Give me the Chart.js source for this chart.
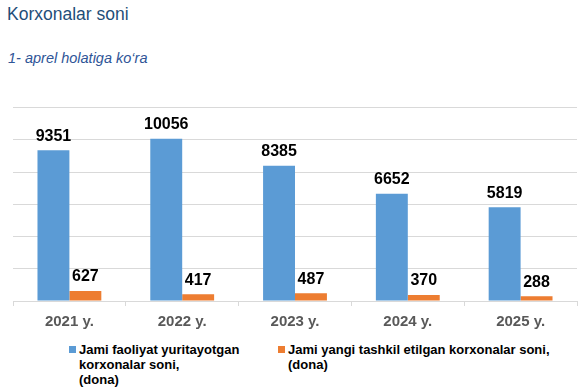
<!DOCTYPE html>
<html>
<head>
    <meta charset="utf-8"/>
    <title>Korxonalar soni</title>
    <style>
        body { margin: 0; width: 585px; height: 392px; background: #fff; font-family: "Liberation Sans", Arial, sans-serif; position: relative; overflow: hidden; }
        #title { position: absolute; left: 7px; top: 4px; font-size: 17.5px; color: #1f4e79; }
        #subtitle { position: absolute; left: 8px; top: 50px; font-size: 14.5px; font-style: italic; color: #2f5597; }
        #box { position: absolute; left: 0; top: 95px; width: 585px; height: 243px; }
        .leg { position: absolute; top: 342px; font-size: 13px; font-weight: bold; color: #000; line-height: 15px; }
        .sw { position: absolute; left: -10px; top: 4px; width: 7px; height: 7px; }
    </style>
    <script src="https://cdn.jsdelivr.net/npm/chart.js@4/dist/chart.umd.min.js"></script>
</head>
<body>
<div id="title">Korxonalar soni</div>
<div id="subtitle">1- aprel holatiga ko‘ra</div>
<div id="box"><canvas id="chart"></canvas></div>
<div class="leg" style="left: 79px;"><span class="sw" style="background:#5b9bd5"></span>Jami faoliyat yuritayotgan<br/>korxonalar soni,<br/>(dona)</div>
<div class="leg" style="left: 288px;"><span class="sw" style="background:#ed7d31"></span>Jami yangi tashkil etilgan korxonalar soni,<br/>(dona)</div>
<script>
    const years = ['2021 y.', '2022 y.', '2023 y.', '2024 y.', '2025 y.'];
    const activeCount = [9351, 10056, 8385, 6652, 5819];
    const newCount = [627, 417, 487, 370, 288];

    // value labels above each bar
    const barLabels = {
        id: 'barLabels',
        afterDatasetsDraw(chart) {
            const ctx = chart.ctx;
            ctx.save();
            ctx.font = 'bold 16px "Liberation Sans", Arial, sans-serif';
            ctx.fillStyle = '#000';
            ctx.textAlign = 'center';
            ctx.textBaseline = 'bottom';
            chart.data.datasets.forEach((ds, i) => {
                chart.getDatasetMeta(i).data.forEach((bar, j) => {
                    ctx.fillText(ds.data[j], bar.x, bar.y - 6);
                });
            });
            ctx.restore();
        }
    };

    const chart = new Chart(document.getElementById('chart'), {
        type: 'bar',
        data: {
            labels: years,
            datasets: [
                { label: 'Jami faoliyat yuritayotgan korxonalar soni, (dona)', data: activeCount, backgroundColor: '#5b9bd5' },
                { label: 'Jami yangi tashkil etilgan korxonalar soni, (dona)', data: newCount, backgroundColor: '#ed7d31' }
            ]
        },
        options: {
            responsive: true,
            maintainAspectRatio: false,
            animation: false,
            layout: { padding: { left: 13, right: 8, top: 12.5, bottom: 0 } },
            datasets: { bar: { categoryPercentage: 0.566, barPercentage: 1.0 } },
            plugins: {
                legend: { display: false },
                tooltip: { enabled: false }
            },
            scales: {
                x: {
                    grid: { drawOnChartArea: false, drawTicks: true, tickLength: 5, color: '#d9d9d9' },
                    border: { color: '#d9d9d9' },
                    ticks: { color: '#595959', font: { size: 15, weight: 'bold', family: '"Liberation Sans", Arial, sans-serif' }, padding: 7 }
                },
                y: {
                    min: 0, max: 12000,
                    ticks: { display: false, stepSize: 2000 },
                    grid: { color: '#d9d9d9', drawTicks: false },
                    border: { display: false }
                }
            }
        },
        plugins: [barLabels]
    });
</script>
</body>
</html>
